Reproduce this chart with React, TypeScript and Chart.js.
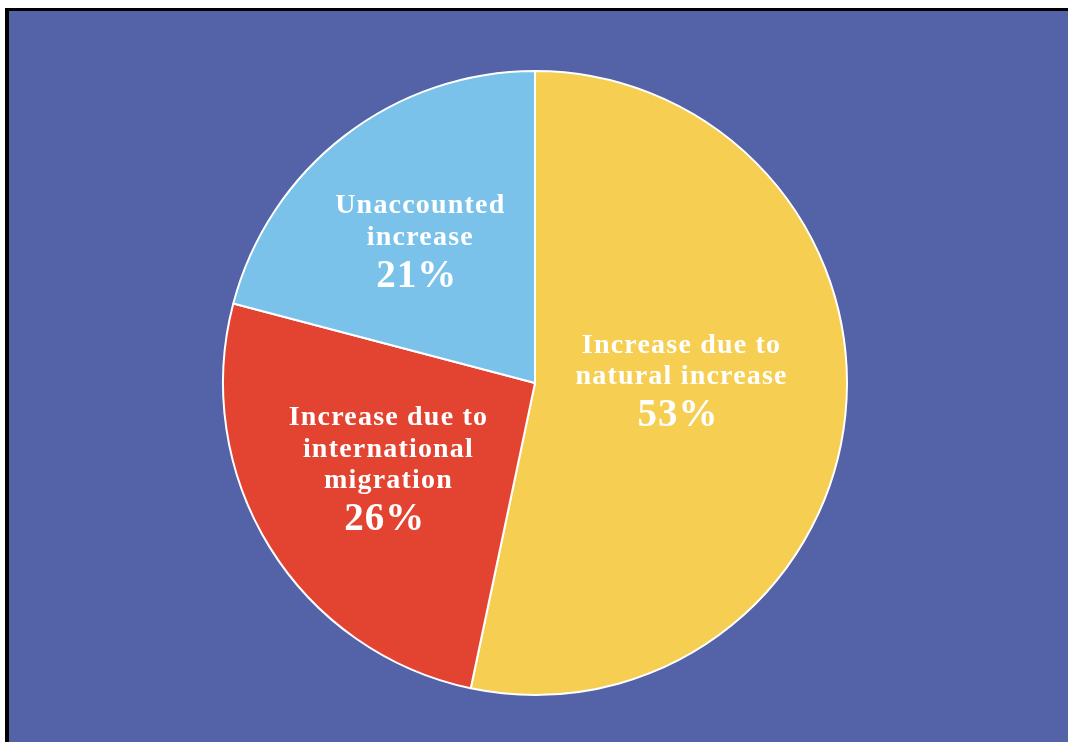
import React, { useEffect, useRef } from "react";
import { Chart, registerables } from "chart.js";

Chart.register(...registerables);

const categories = [
  ["Increase due to", "natural increase"],
  ["Increase due to", "international", "migration"],
  ["Unaccounted", "increase"],
];
const values = [53.3, 25.8, 20.9];
const percentLabels = ["53%", "26%", "21%"];
const sliceColors = ["#F5CE52", "#E34432", "#7AC2EA"];
// label placement: fraction of radius and angular nudge (degrees) from slice mid-angle
const labelRadius = [0.468, 0.545, 0.588];
const labelNudge = [-7.2, 1.6, -1.3];

const labelPlugin = {
  id: "sliceLabels",
  afterDatasetsDraw(chart: any) {
    const ctx = chart.ctx;
    const meta = chart.getDatasetMeta(0);
    meta.data.forEach((arc: any, i: number) => {
      const { x, y, startAngle, endAngle, outerRadius } = arc.getProps(
        ["x", "y", "startAngle", "endAngle", "outerRadius"],
        true
      );
      const a = (startAngle + endAngle) / 2 + (labelNudge[i] * Math.PI) / 180;
      const r = outerRadius * labelRadius[i];
      const cx = x + Math.cos(a) * r;
      const cy = y + Math.sin(a) * r;
      const lines = categories[i];
      const lineGap = 31.5;
      const pctGap = 42;
      const cap = 19;
      const blockH = cap + (lines.length - 1) * lineGap + pctGap;
      const top = cy - blockH / 2;
      ctx.save();
      ctx.fillStyle = "#ffffff";
      ctx.textAlign = "center";
      ctx.textBaseline = "alphabetic";
      ctx.font = "bold 28px 'Liberation Serif', 'Times New Roman', serif";
      (ctx as any).letterSpacing = "1.2px";
      lines.forEach((t: string, k: number) => {
        ctx.fillText(t, cx + 0.6, top + cap + k * lineGap);
      });
      ctx.font = "bold 39px 'Liberation Serif', 'Times New Roman', serif";
      (ctx as any).letterSpacing = "1px";
      ctx.fillText(percentLabels[i], cx - 3, top + cap + (lines.length - 1) * lineGap + pctGap);
      ctx.restore();
    });
  },
};

export default function App() {
  const ref = useRef<HTMLCanvasElement | null>(null);
  useEffect(() => {
    if (!ref.current) return;
    const chart = new Chart(ref.current, {
      type: "pie",
      data: {
        labels: categories.map((c) => c.join(" ")),
        datasets: [
          {
            data: values,
            backgroundColor: sliceColors,
            borderColor: "#ffffff",
            borderWidth: 2,
          },
        ],
      },
      options: {
        responsive: false,
        animation: false,
        layout: { padding: { top: 70, bottom: 46, left: 2, right: 0 } },
        plugins: {
          legend: { display: false },
          tooltip: { enabled: false },
        },
      },
      plugins: [labelPlugin],
    });
    return () => chart.destroy();
  }, []);
  return (
    <div>
      <div
        style={{
          position: "fixed",
          left: 5,
          top: 8,
          width: 1100,
          height: 800,
          background: "#5462A8",
          borderTop: "3px solid #000",
          borderLeft: "4px solid #000",
        }}
      />
      <canvas
        ref={ref}
        width={1068}
        height={742}
        style={{ position: "fixed", left: 0, top: 0, width: 1068, height: 742 }}
      />
    </div>
  );
}
